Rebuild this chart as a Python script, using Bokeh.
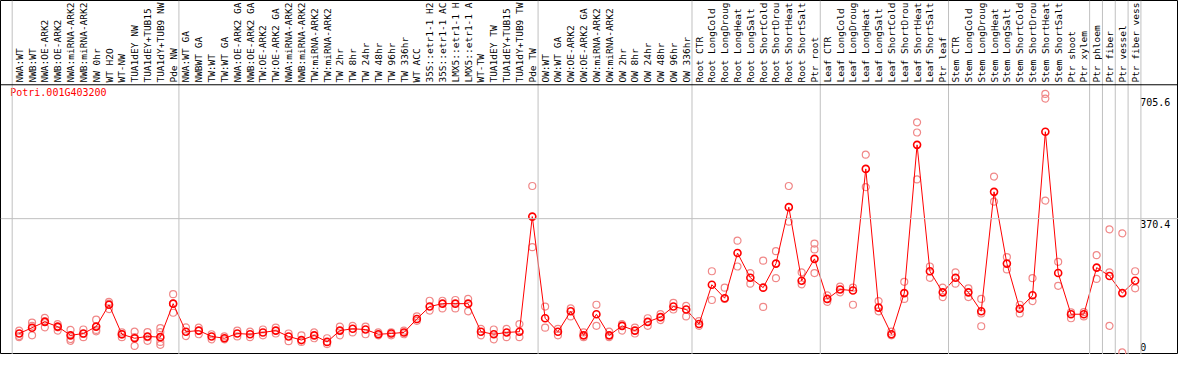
import math
from bokeh.plotting import figure
from bokeh.models import Range1d, Span
from bokeh.core.properties import value
from bokeh.embed import file_html
from bokeh.resources import INLINE

gene = "Potri.001G403200"

categories = [
    "NWA:WT", "NWB:WT", "NWA:OE-ARK2", "NWB:OE-ARK2", "NWA:miRNA-ARK2", "NWB:miRNA-ARK2",
    "NW 0hr", "WT H2O", "WT-NW", "TUA1dEY NW", "TUA1dEY+TUB15", "TUA1dY+TUB9 NW", "Pde NW",
    "NWA:WT GA", "NWBWT GA", "TW:WT", "TW:WT GA", "NWA:OE-ARK2 GA", "NWB:OE-ARK2 GA",
    "TW:OE-ARK2", "TW:OE-ARK2 GA", "NWA:miRNA-ARK2", "NWB:miRNA-ARK2", "TW:miRNA-ARK2",
    "TW:miRNA-ARK2", "TW 2hr", "TW 8hr", "TW 24hr", "TW 48hr", "TW 96hr", "TW 336hr",
    "WT ACC", "35S::etr1-1 H2", "35S::etr1-1 AC", "LMX5::etr1-1 H", "LMX5::etr1-1 A",
    "WT-TW", "TUA1dEY TW", "TUA1dEY+TUB15", "TUA1dY+TUB9 TW", "Pde TW",
    "OW:WT", "OW:WT GA", "OW:OE-ARK2", "OW:OE-ARK2 GA", "OW:miRNA-ARK2", "OW:miRNA-ARK2",
    "OW 2hr", "OW 8hr", "OW 24hr", "OW 48hr", "OW 96hr", "OW 336hr",
    "Root CTR", "Root LongCold", "Root LongDroug", "Root LongHeat", "Root LongSalt",
    "Root ShortCold", "Root ShortDrou", "Root ShortHeat", "Root ShortSalt", "Ptr root",
    "Leaf CTR", "Leaf LongCold", "Leaf LongDroug", "Leaf LongHeat", "Leaf LongSalt",
    "Leaf ShortCold", "Leaf ShortDrou", "Leaf ShortHeat", "Leaf ShortSalt", "Ptr leaf",
    "Stem CTR", "Stem LongCold", "Stem LongDroug", "Stem LongHeat", "Stem LongSalt",
    "Stem ShortCold", "Stem ShortDrou", "Stem ShortHeat", "Stem ShortSalt", "Ptr shoot",
    "Ptr xylem", "Ptr phloem", "Ptr fiber", "Ptr vessel", "Ptr fiber vess",
]

means = [
    55, 71, 87, 74, 50, 55, 74, 134, 53, 42, 47, 45, 137,
    60, 63, 47, 42, 55, 53, 58, 63, 47, 37, 50, 32, 63, 68, 66, 53, 55, 58, 95, 129,
    137, 137, 137, 60, 53, 58, 60, 376,
    97, 60, 116, 50, 108, 50, 76, 63, 87, 100, 129, 121,
    81, 189, 152, 276, 208, 181, 247, 402, 200, 260,
    150, 176, 173, 507, 126, 53, 166, 573, 226, 168,
    208, 168, 116, 444, 247, 123, 160, 609, 221, 108, 108,
    236, 213, 166, 200,
]

replicates = [
    [63, 48, 45], [85, 50, 76], [98, 72, 89], [81, 63, 72], [65, 35, 40], [66, 45, 54],
    [93, 61, 65], [142, 122, 137], [58, 45, 52], [60, 21, 45], [59, 35, 45],
    [70, 32, 24, 59], [163, 112, 137],
    [72, 48], [71, 53], [53, 39], [47, 39], [63, 47], [60, 45], [66, 50], [71, 55],
    [55, 34], [50, 32], [58, 42], [42, 26], [74, 50], [76, 58], [74, 53], [58, 50],
    [58, 50], [63, 53], [102, 90], [145, 118], [145, 124], [147, 124], [150, 116],
    [68, 50], [66, 39], [68, 45], [81, 45], [460, 292],
    [129, 71], [68, 50], [124, 102], [58, 45], [134, 76], [60, 45], [81, 63], [71, 55],
    [97, 76], [108, 92], [139, 121], [131, 102],
    [89, 76], [226, 147], [181, 150], [310, 239], [221, 192], [255, 128], [281, 207],
    [460, 362], [223, 190], [302, 286, 221],
    [160, 142], [184, 168], [181, 134], [546, 457], [144, 116], [60, 50], [197, 150],
    [635, 607, 478], [239, 208], [181, 155],
    [223, 192], [179, 155], [150, 110, 75], [486, 417], [265, 231], [134, 110],
    [207, 144], [713, 700, 420], [252, 186], [113, 97], [114, 102],
    [270, 205], [341, 223, 76], [330, 3], [226, 179],
]

# index of the last category of each group (group separators)
group_last = [12, 40, 52, 62, 72, 83, 84, 85, 86, 87]
y_ticks = [705.6, 370.4, 0]
y_tick_labels = ["705.6", "370.4", "0"]

n = len(categories)
xs = list(range(n))
rep_x = [i for i, reps in enumerate(replicates) for _ in reps]
rep_y = [v for reps in replicates for v in reps]

# canvas mapping (category units / value units)
X_LO, X_HI = -1.46, 90.38
Y_LO, Y_HI = -2.6, 969.4
PLOT_TOP = 738.0

FONT = value("DejaVu Sans Mono")

p = figure(width=1178, height=354, output_backend="svg", toolbar_location=None,
           x_range=Range1d(X_LO, X_HI), y_range=Range1d(Y_LO, Y_HI),
           x_axis_type=None, y_axis_type=None, min_border=0)
p.outline_line_color = "black"
p.outline_line_width = 1
p.background_fill_color = "white"
p.border_fill_color = "white"

# vertical group separators
p.add_layout(Span(location=-0.55, dimension="height", line_color="#c0c0c0", line_width=1))
for g in group_last:
    p.add_layout(Span(location=g + 0.45, dimension="height", line_color="#c0c0c0", line_width=1))
# horizontal grid line at middle tick
p.add_layout(Span(location=y_ticks[1], dimension="width", line_color="#c0c0c0", line_width=1))
# separator between labels and plot area
p.add_layout(Span(location=PLOT_TOP, dimension="width", line_color="black", line_width=1))

# category labels (vertical)
p.text(x=xs, y=[744] * n, text=categories, angle=math.pi / 2,
       text_align="left", text_baseline="middle", text_font=FONT,
       text_font_size="9.5px", text_color="black")

# replicates
p.scatter(rep_x, rep_y, marker="circle", size=7, fill_color=None,
          line_color="#f08888", line_width=1.2)
# mean line + points
p.line(xs, means, line_color="red", line_width=1)
p.scatter(xs, means, marker="circle", size=7, fill_color=None,
          line_color="red", line_width=1.6)

# gene title
p.text(x=[-0.7], y=[731], text=[gene], text_align="left", text_baseline="top",
       text_font=FONT, text_font_size="10px", text_color="red")

# y tick labels inside the plot at right
p.text(x=[87.4, 87.4], y=y_ticks[:2], text=y_tick_labels[:2], text_align="left",
       text_baseline="top", y_offset=1, text_font=FONT, text_font_size="10px",
       text_color="black")
p.text(x=[87.4], y=[y_ticks[2]], text=[y_tick_labels[2]], text_align="left",
       text_baseline="bottom", y_offset=-3, text_font=FONT, text_font_size="10px",
       text_color="black")

open("out.html", "w").write(file_html(p, INLINE))
